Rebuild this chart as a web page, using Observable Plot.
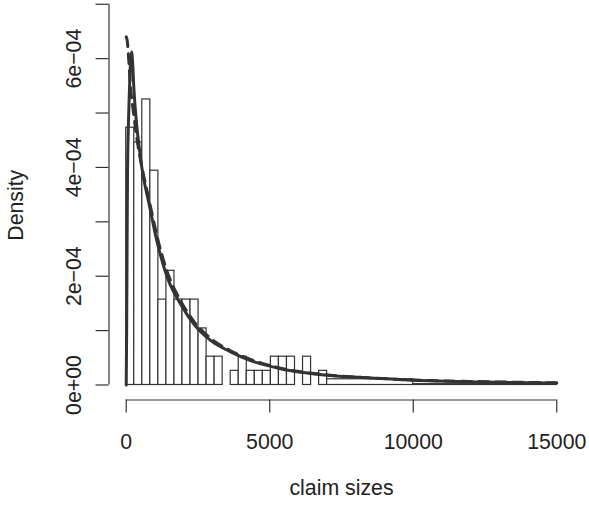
<!DOCTYPE html>
<html><head><meta charset="utf-8">
<script src="https://cdn.jsdelivr.net/npm/d3@7"></script>
<script src="https://cdn.jsdelivr.net/npm/@observablehq/plot@0.6"></script>
<style>body{margin:0;background:#fff}</style>
</head><body><div id="chart"></div>
<script>
// Histogram bin edges (claim sizes) and densities
const binEdges = [0,280,560,840,1120,1400,1680,1960,2240,2520,2800,3080,3360,3640,3920,4200,4480,4760,5040,5320,5600,5880,6160,6440,6720,7000,10000,15000];
const binDensity = [4.73e-4,4.46e-4,5.25e-4,3.94e-4,1.57e-4,2.10e-4,1.57e-4,1.57e-4,1.57e-4,1.04e-4,0.52e-4,0.52e-4,0,0.26e-4,0.52e-4,0.26e-4,0.26e-4,0.26e-4,0.52e-4,0.52e-4,0.52e-4,0,0.52e-4,0,0.26e-4,0.105e-4,0.015e-4];

// Solid fitted density curve
const solidX = [0,15,30,45,80,115,150,185,220,265,320,383,470,557,788,1080,1428,1892,2355,2937,3634,4331,5376,7118,8513,10021,12500,15000];
const solidY = [0,1.0e-4,2.5e-4,3.9e-4,4.86e-4,5.47e-4,5.95e-4,6.12e-4,5.95e-4,5.47e-4,5.05e-4,4.68e-4,4.3e-4,3.95e-4,3.35e-4,2.62e-4,1.98e-4,1.49e-4,1.12e-4,0.82e-4,0.61e-4,0.45e-4,0.30e-4,0.175e-4,0.13e-4,0.085e-4,0.055e-4,0.033e-4];

// Dashed fitted density curve
const dashX = [0,35,90,150,244,383,557,788,1080,1428,1892,2355,2937,3634,4331,5376,7118,8513,10021,12500,15000];
const dashY = [6.4e-4,6.33e-4,5.96e-4,5.47e-4,5.05e-4,4.49e-4,3.98e-4,3.42e-4,2.72e-4,2.08e-4,1.55e-4,1.17e-4,0.86e-4,0.63e-4,0.47e-4,0.31e-4,0.18e-4,0.13e-4,0.09e-4,0.06e-4,0.04e-4];

// Axes
const xTicks = [0,5000,10000,15000];
const yTicks = [0,1e-4,2e-4,3e-4,4e-4,5e-4,6e-4,7e-4];
const yLabelTicks = [0,2e-4,4e-4,6e-4];
const yLabels = ["0e+00","2e\u221204","4e\u221204","6e\u221204"];
const xTitle = "claim sizes";
const yTitle = "Density";

const xDomain = [-600, 15600];
const yDomain = [-0.276e-4, 7.069e-4];

const bins = binDensity.map((d, i) => ({x1: binEdges[i], x2: binEdges[i + 1], density: d}));
const solid = solidX.map((x, i) => ({x, y: solidY[i]}));
const dashed = dashX.map((x, i) => ({x, y: dashY[i]}));

const ink = "#333";

const chart = Plot.plot({
  width: 589,
  height: 507,
  marginLeft: 108.5,
  marginRight: 15.5,
  marginTop: 0,
  marginBottom: 107.5,
  x: {domain: xDomain, label: null},
  y: {domain: yDomain, label: null},
  style: {fontFamily: "'Liberation Sans', Arial, Helvetica, sans-serif", fontSize: "21.3px", color: "#222", background: "white"},
  marks: [
    Plot.rectY(bins, {x1: "x1", x2: "x2", y1: 0, y2: "density", fill: "white", stroke: ink, strokeWidth: 1.2}),
    Plot.line(solid, {x: "x", y: "y", stroke: ink, strokeWidth: 3, curve: "monotone-x"}),
    Plot.line(dashed, {x: "x", y: "y", stroke: ink, strokeWidth: 3, strokeDasharray: "10,7", curve: "monotone-x"}),
    Plot.ruleY([yDomain[0]], {x1: xTicks[0], x2: xTicks[xTicks.length - 1], stroke: ink, strokeWidth: 1.2}),
    Plot.ruleX([xDomain[0]], {y1: yTicks[0], y2: yTicks[yTicks.length - 1], stroke: ink, strokeWidth: 1.2}),
    Plot.axisX({ticks: xTicks, tickSize: 13, tickPadding: 21, tickFormat: d => String(d), stroke: ink, strokeWidth: 1.2}),
    Plot.axisY({ticks: yTicks, tickSize: 13, tickFormat: () => "", stroke: ink, strokeWidth: 1.2}),
    Plot.text(yLabelTicks, {y: d => d, text: (d, i) => yLabels[i], frameAnchor: "left", rotate: -90, lineAnchor: "bottom", textAnchor: "middle", dx: -28.5, fill: "#222"}),
    Plot.text([yTitle], {text: d => d, frameAnchor: "left", rotate: -90, lineAnchor: "bottom", textAnchor: "middle", dx: -85.8, dy: 5, fill: "#222"}),
    Plot.text([xTitle], {text: d => d, frameAnchor: "bottom", lineAnchor: "bottom", textAnchor: "middle", dy: 94.5, fill: "#222"})
  ]
});
document.getElementById("chart").appendChild(chart);
</script>
</body></html>
